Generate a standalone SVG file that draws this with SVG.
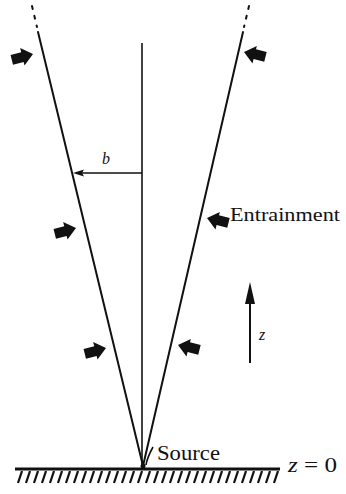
<svg xmlns="http://www.w3.org/2000/svg" width="346" height="494" viewBox="0 0 346 494">
<style>
.ln{stroke:#111;stroke-width:2;fill:none;stroke-linecap:round}
.thin{stroke:#111;stroke-width:1.6;fill:none}
.txt{font-family:"Liberation Serif","Times New Roman",serif;fill:#111}
.it{font-style:italic}
.hatch{stroke:#111;stroke-width:2.2;fill:none}
.head{fill:#111}
</style>
<defs>
<path id="ent" d="M0,0 L-11,-9 L-11,-4.5 L-22,-4.5 L-22,5.5 L-11,5.5 L-11,9 Z" fill="#111"/>
</defs>
<g id="connectors">
<line class="ln" x1="38" y1="32" x2="143" y2="466"/>
<line class="ln" x1="243" y1="32" x2="143" y2="466"/>
<line class="ln" x1="32" y1="6" x2="37" y2="27" stroke-dasharray="3 7"/>
<line class="ln" x1="249" y1="6" x2="244" y2="27" stroke-dasharray="3 7"/>
<line class="thin" x1="142" y1="43" x2="142" y2="466"/>
<line class="thin" x1="142" y1="173" x2="78" y2="173"/>
<path class="head" d="M73,173 L84,169.5 L82,173 L84,176.5 Z"/>
<line x1="250" y1="363" x2="250" y2="300" stroke="#111" stroke-width="2"/>
<path class="head" d="M250,282 L255,304 L245,304 Z"/>
</g>
<g id="entrainment-arrows">
<use href="#ent" transform="translate(33,54) rotate(-14)"/>
<use href="#ent" transform="translate(76,228) rotate(-14)"/>
<use href="#ent" transform="translate(106,348) rotate(-14)"/>
<use href="#ent" transform="translate(244,52) rotate(194)"/>
<use href="#ent" transform="translate(207,218) rotate(194)"/>
<use href="#ent" transform="translate(178,345) rotate(194)"/>
</g>
<g id="ground">
<line x1="15" y1="469" x2="280" y2="469" stroke="#111" stroke-width="3"/>
<path class="hatch" d="M22,471 L18,483 M30,471 L26,483 M38,471 L34,483 M46,471 L42,483 M54,471 L50,483 M62,471 L58,483 M70,471 L66,483 M78,471 L74,483 M86,471 L82,483 M94,471 L90,483 M102,471 L98,483 M110,471 L106,483 M118,471 L114,483 M126,471 L122,483 M134,471 L130,483 M142,471 L138,483 M150,471 L146,483 M158,471 L154,483 M166,471 L162,483 M174,471 L170,483 M182,471 L178,483 M190,471 L186,483 M198,471 L194,483 M206,471 L202,483 M214,471 L210,483 M222,471 L218,483 M230,471 L226,483 M238,471 L234,483 M246,471 L242,483 M254,471 L250,483 M262,471 L258,483 M270,471 L266,483 M278,471 L274,483"/>
<text class="txt" x="288" y="472" font-size="21" textLength="49" lengthAdjust="spacingAndGlyphs"><tspan class="it">z</tspan> = 0</text>
</g>
<g id="source">
<circle cx="143" cy="466" r="2.5" fill="#111"/>
<path class="thin" d="M153,447 Q147,458 146,465"/>
<text class="txt" x="157" y="460" font-size="20" textLength="63" lengthAdjust="spacingAndGlyphs">Source</text>
</g>
<g id="labels">
<text class="txt it" x="102" y="164" font-size="16">b</text>
<text class="txt" x="230" y="221" font-size="19" textLength="110" lengthAdjust="spacingAndGlyphs">Entrainment</text>
<text class="txt it" x="259" y="340" font-size="16">z</text>
</g>
</svg>
